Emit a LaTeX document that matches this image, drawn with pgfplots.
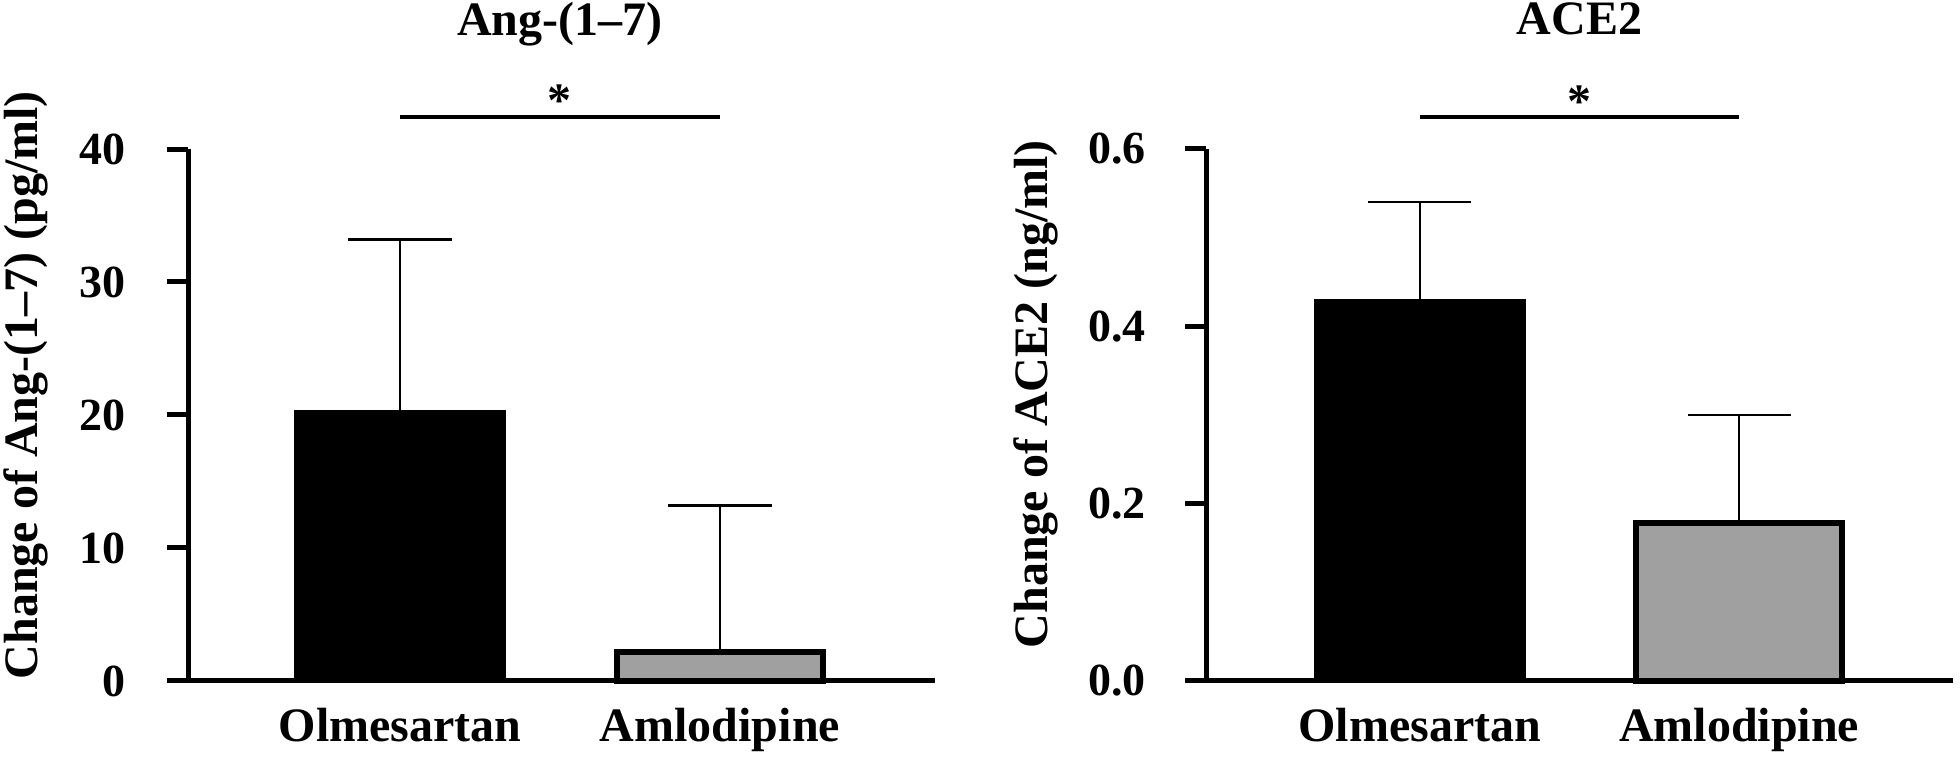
\documentclass[border=0pt]{standalone}
\usepackage{pgfplots}
\pgfplotsset{compat=1.18}
\usepackage{fontspec}
\setmainfont{Liberation Serif}
\definecolor{bargray}{RGB}{160,160,160}
\begin{document}
\begin{tikzpicture}
\path[use as bounding box] (0,0) rectangle (490pt,189.5pt);
\pgfplotsset{
 myaxis/.style={
  scale only axis, width=186.75pt, height=133pt,
  anchor=south west,
  axis lines=left,
  axis line style={-, line width=1.25pt},
  enlargelimits=false,
  clip=false,
  ymin=0,
  xtick={1,2}, xticklabels={Olmesartan,Amlodipine},
  tick align=outside,
  major tick length=5.25pt,
  ytick style={line width=1.25pt, black},
  xtick style={draw=none},
  /pgf/number format/assume math mode=true,
  yticklabel style={font=\fontsize{11.5}{13}\selectfont\bfseries, anchor=east, inner sep=0pt},
  xticklabel style={font=\fontsize{12}{14}\selectfont\bfseries, anchor=base, inner sep=0pt, yshift=-10pt},
  ylabel style={font=\fontsize{12}{14}\selectfont\bfseries},
 },
 bar1/.style={ybar, bar width=52.5pt, bar shift=0pt, fill=black, draw=black, line width=0.5pt,
  error bars/.cd, y dir=plus, y explicit, error bar style={line width=0.6pt, black}, error mark=|, error mark options={line width=0.6pt, mark size=12.9pt, black}},
 bar2/.style={ybar, bar width=51.5pt, bar shift=0pt, fill=bargray, draw=black, line width=1.5pt,
  error bars/.cd, y dir=plus, y explicit, error bar style={line width=0.6pt, black}, error mark=|, error mark options={line width=0.6pt, mark size=12.9pt, black}},
}
\begin{axis}[myaxis, at={(47pt,19.25pt)}, xmin=0.3375, xmax=2.672, ymax=40, ytick={0,10,20,30,40},
 yticklabel style={xshift=-10.1pt},
 ylabel={Change of Ang-(1–7) (pg/ml)},
 ylabel style={at={(axis description cs:-0.2008,0.556)}, anchor=base}]
\addplot[bar1] coordinates {(1,20.3) +- (0,12.9)};
\addplot[bar2] coordinates {(2,2.15) +- (0,11.05)};
\draw[line width=0.9pt] (axis cs:1,42.41) -- (axis cs:2,42.41);
\node[anchor=base, font=\fontsize{12}{14}\selectfont\bfseries] at (axis cs:1.5,42.41) {*};
\node[anchor=base, font=\fontsize{12}{14}\selectfont\bfseries] at (axis cs:1.5,48.57) {Ang-(1–7)};
\end{axis}
\begin{axis}[myaxis, at={(301.5pt,19.25pt)}, xmin=0.331, xmax=2.669, ymax=0.6, ytick={0,0.2,0.4,0.6},
 yticklabel style={xshift=-9.6pt, /pgf/number format/.cd, fixed, fixed zerofill, precision=1},
 ylabel={Change of ACE2 (ng/ml)},
 ylabel style={at={(axis description cs:-0.2126,0.539)}, anchor=base}]
\addplot[bar1] coordinates {(1,0.43) +- (0,0.11)};
\addplot[bar2] coordinates {(2,0.178) +- (0,0.122)};
\draw[line width=0.9pt] (axis cs:1,0.636) -- (axis cs:2,0.636);
\node[anchor=base, font=\fontsize{12}{14}\selectfont\bfseries] at (axis cs:1.5,0.636) {*};
\node[anchor=base, font=\fontsize{12}{14}\selectfont\bfseries] at (axis cs:1.5,0.7286) {ACE2};
\end{axis}
\end{tikzpicture}
\end{document}
